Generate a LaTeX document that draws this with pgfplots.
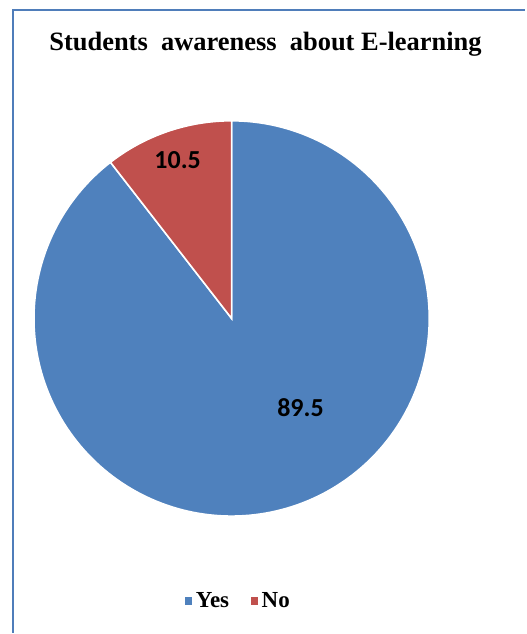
\documentclass[border=0pt]{standalone}
\usepackage{pgfplots}
\usepackage{pgfplotstable}
\pgfplotsset{compat=1.18}
\usepackage{fontspec}
\setmainfont{Liberation Serif}
\newfontfamily\lblfont{Carlito}
\definecolor{pieblue}{RGB}{79,129,189}
\definecolor{piered}{RGB}{192,80,77}
\definecolor{framecol}{RGB}{79,125,186}
\pgfplotstableread{
label value
Yes 89.5
No 10.5
}\piedata
\pgfplotstablegetelem{0}{value}\of\piedata \let\yesval\pgfplotsretval
\pgfplotstablegetelem{1}{value}\of\piedata \let\noval\pgfplotsretval
\pgfmathsetmacro{\noend}{90+3.6*\noval}
\pgfmathsetmacro{\yesstart}{90-3.6*\yesval}
\begin{document}
\begin{tikzpicture}
\begin{axis}[
  scale only axis, width=526pt, height=634pt,
  xmin=0, xmax=526, ymin=0, ymax=634,
  hide axis, clip=false,
  legend columns=2,
  legend style={at={(axis cs:238,32)}, anchor=center, draw=none, fill=none,
    font=\fontsize{23}{26}\selectfont\bfseries,
    /tikz/every even column/.append style={column sep=18pt}},
  legend image code/.code={\fill[#1] (0pt,-4.5pt) rectangle (9pt,4.5pt);},
]
% bounding box
\path (rel axis cs:0,0) rectangle (rel axis cs:1,1);
% frame
\draw[framecol, line width=2.2pt] (axis cs:13,0) -- (axis cs:13,624) -- (axis cs:526,624);
% Yes slice
\addplot[fill=pieblue, draw=white, line width=1.6pt, domain=\yesstart:90, samples=200, variable=\t]
  ({232+198*cos(t)},{315+198*sin(t)}) -- (axis cs:232,315) -- cycle;
\addlegendentry{Yes}
% No slice
\addplot[fill=piered, draw=white, line width=1.6pt, domain=90:\noend, samples=60, variable=\t]
  ({232+198*cos(t)},{315+198*sin(t)}) -- (axis cs:232,315) -- cycle;
\addlegendentry{No}
% data labels
\node[font=\lblfont\fontsize{26}{29}\selectfont\bfseries] at (axis cs:178,474) {\noval};
\node[font=\lblfont\fontsize{26}{29}\selectfont\bfseries] at (axis cs:301,226) {\yesval};
% title
\node[anchor=base, font=\fontsize{26.5}{30}\selectfont\bfseries] at (axis cs:266,583)
  {Students\hspace{0.5em}awareness\hspace{0.5em}about E-learning};
\end{axis}
\end{tikzpicture}
\end{document}
